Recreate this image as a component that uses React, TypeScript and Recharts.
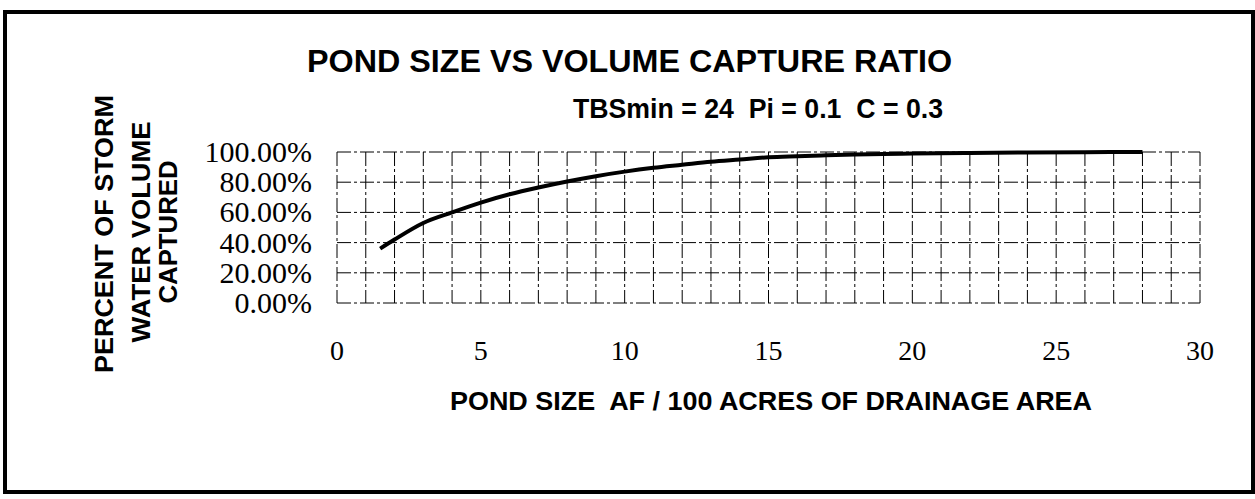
import React from "react";
import { LineChart, Line, XAxis, YAxis, CartesianGrid } from "recharts";

// ── Data ───────────────────────────────────────────────────────────────────

const pondSize = [1.5, 2, 3, 4, 5, 6, 7, 8, 9, 10, 11, 12, 13, 14, 15, 16, 17, 18, 19, 20, 22, 24, 26, 28];
const captureRatio = [
  0.36, 0.42, 0.53, 0.6, 0.665, 0.72, 0.765, 0.805, 0.84, 0.87, 0.895, 0.915, 0.935, 0.95,
  0.965, 0.972, 0.978, 0.983, 0.987, 0.99, 0.994, 0.997, 0.999, 1.0,
];

const xGridTicks = [
  0, 1, 2, 3, 4, 5, 6, 7, 8, 9, 10, 11, 12, 13, 14, 15, 16, 17, 18, 19, 20, 21, 22, 23, 24, 25, 26,
  27, 28, 29, 30,
];
const xLabelTicks = [0, 5, 10, 15, 20, 25, 30];
const yTicks = [0, 0.2, 0.4, 0.6, 0.8, 1];

const yTitleLines = ["PERCENT OF STORM", "WATER VOLUME", "CAPTURED"];

const data = pondSize.map((x, i) => ({ x, ratio: captureRatio[i] }));

const serif = "'Liberation Serif', 'Times New Roman', serif";
const sans = "'Liberation Sans', Arial, sans-serif";

// ── Ticks ──────────────────────────────────────────────────────────────────

function XTick({ x, y, payload }: any) {
  if (!xLabelTicks.includes(payload.value)) return <g />;
  return (
    <text x={x} y={y + 57} textAnchor="middle" fontFamily={serif} fontSize={28} fill="#000">
      {payload.value}
    </text>
  );
}

function YTick({ x, y, payload }: any) {
  return (
    <text x={x} y={y + 10} textAnchor="end" fontFamily={serif} fontSize={30} fill="#000">
      {(payload.value * 100).toFixed(2) + "%"}
    </text>
  );
}

// ── Titles / frame overlay ─────────────────────────────────────────────────

function Overlay() {
  const yTitle = [
    { x: 113, y: 234, len: 278 },
    { x: 150, y: 232, len: 221 },
    { x: 177, y: 232, len: 143 },
  ];
  return (
    <svg
      width={1255}
      height={499}
      style={{ position: "absolute", left: 0, top: 0, pointerEvents: "none" }}
    >
      <rect x={5} y={12} width={1248} height={480} fill="none" stroke="#000" strokeWidth={4} />
      <text
        x={629.5}
        y={72}
        textAnchor="middle"
        fontFamily={sans}
        fontWeight="bold"
        fontSize={32}
        textLength={645}
        lengthAdjust="spacingAndGlyphs"
      >
        POND SIZE VS VOLUME CAPTURE RATIO
      </text>
      <text
        x={758}
        y={118}
        textAnchor="middle"
        fontFamily={sans}
        fontWeight="bold"
        fontSize={27}
        textLength={370}
        lengthAdjust="spacingAndGlyphs"
        style={{ whiteSpace: "pre" }}
      >
        {"TBSmin = 24  Pi = 0.1  C = 0.3"}
      </text>
      <text
        x={771}
        y={410}
        textAnchor="middle"
        fontFamily={sans}
        fontWeight="bold"
        fontSize={26}
        textLength={642}
        lengthAdjust="spacingAndGlyphs"
        style={{ whiteSpace: "pre" }}
      >
        {"POND SIZE  AF / 100 ACRES OF DRAINAGE AREA"}
      </text>
      {yTitleLines.map((line, i) => (
        <text
          key={line}
          transform={`translate(${yTitle[i].x}, ${yTitle[i].y}) rotate(-90)`}
          textAnchor="middle"
          fontFamily={sans}
          fontWeight="bold"
          fontSize={25}
          textLength={yTitle[i].len}
          lengthAdjust="spacingAndGlyphs"
        >
          {line}
        </text>
      ))}
    </svg>
  );
}

export default function App() {
  return (
    <div
      style={{
        position: "absolute",
        left: 0,
        top: 0,
        width: 1255,
        height: 499,
        background: "#fff",
      }}
    >
      <LineChart
        width={1255}
        height={499}
        data={data}
        margin={{ top: 152, right: 55, left: 0, bottom: 136 }}
      >
        <CartesianGrid stroke="#000" strokeWidth={1} strokeDasharray="14 3 3 3" />
        <XAxis
          dataKey="x"
          type="number"
          domain={[0, 30]}
          ticks={xGridTicks}
          interval={0}
          height={60}
          tickSize={0}
          tickMargin={0}
          axisLine={false}
          tickLine={false}
          tick={<XTick />}
        />
        <YAxis
          type="number"
          domain={[0, 1]}
          ticks={yTicks}
          width={337}
          tickSize={0}
          tickMargin={25}
          axisLine={false}
          tickLine={false}
          tick={<YTick />}
        />
        <Line
          type="monotone"
          dataKey="ratio"
          stroke="#000"
          strokeWidth={4}
          dot={false}
          isAnimationActive={false}
        />
      </LineChart>
      <Overlay />
    </div>
  );
}
